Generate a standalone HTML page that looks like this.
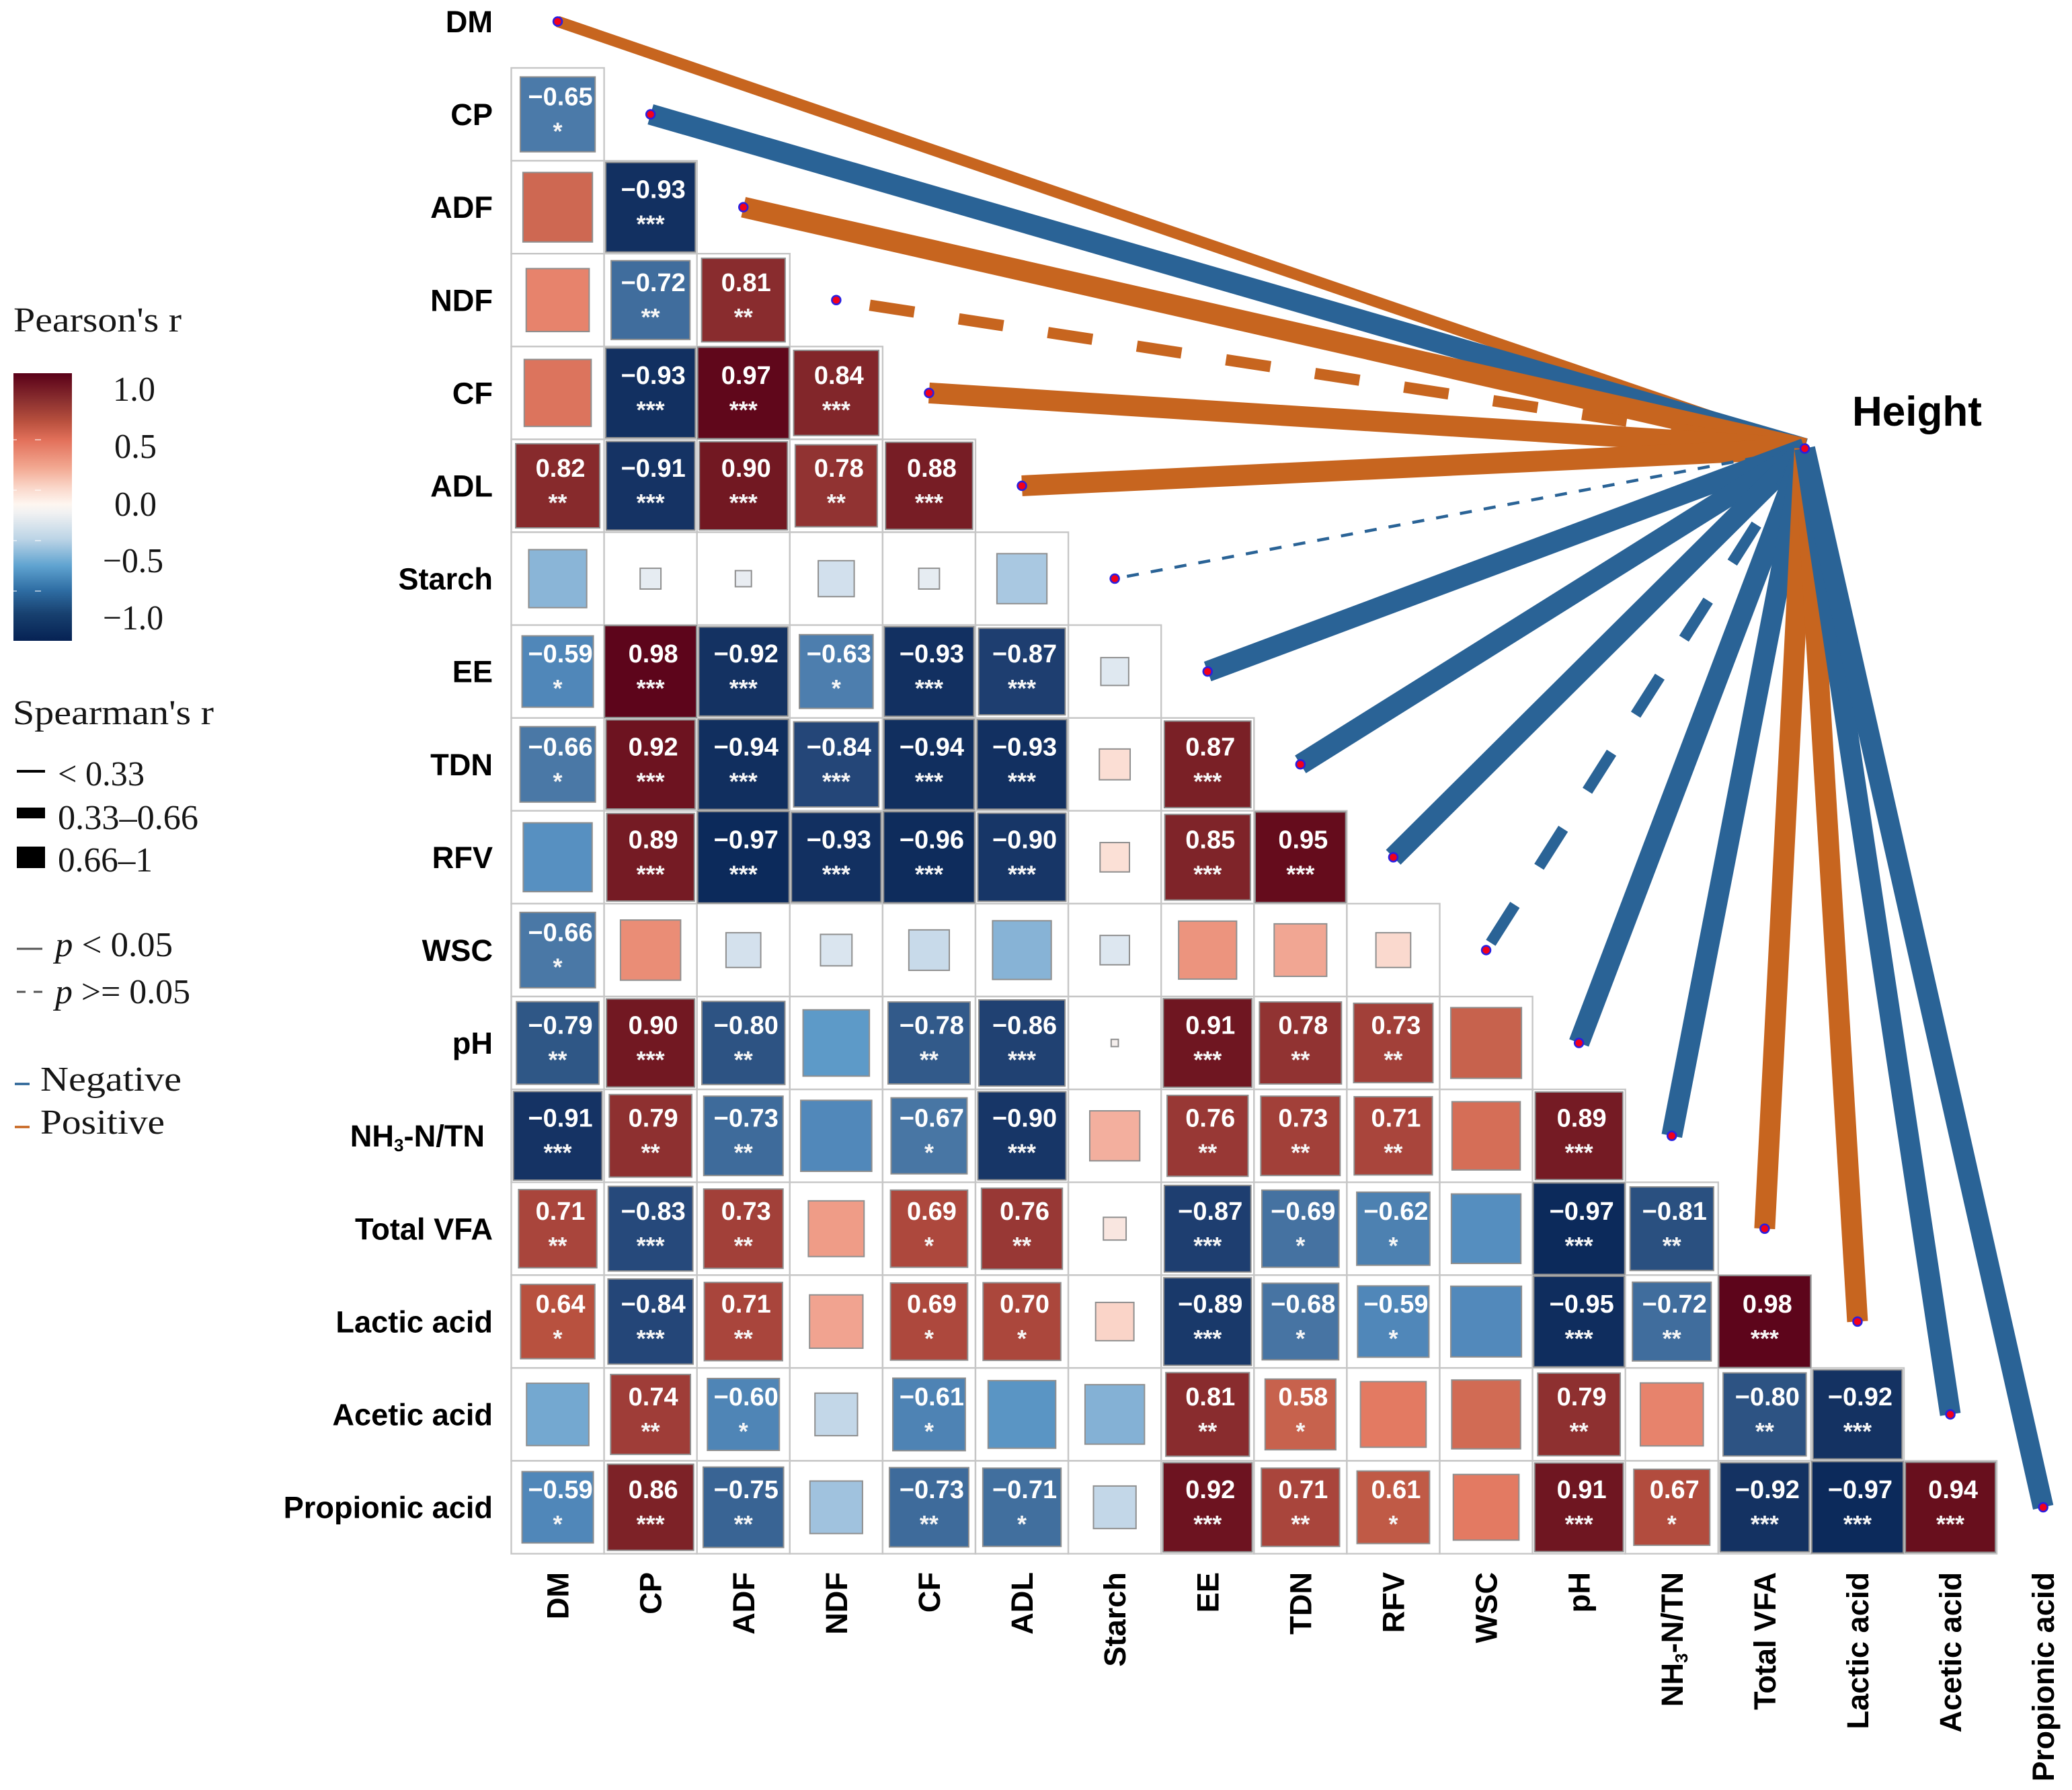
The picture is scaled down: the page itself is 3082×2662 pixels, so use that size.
<!DOCTYPE html>
<html lang="en">
<head>
<meta charset="utf-8">
<title>Pearson and Spearman correlation chart</title>
<style>
html,body{margin:0;padding:0;background:#fff;}
svg{display:block;}
.lg{font-family:"Liberation Serif",serif;font-size:52px;fill:#161616;}
.ax{font-family:"Liberation Sans",sans-serif;font-weight:bold;font-size:45.2px;fill:#000;}
.val{font-family:"Liberation Sans",sans-serif;font-weight:bold;font-size:38px;fill:#fff;text-anchor:middle;}
.star{font-family:"Liberation Sans",sans-serif;font-weight:bold;font-size:36px;fill:#f6f6f6;text-anchor:middle;}
</style>
</head>
<body>
<svg id="chart" xmlns="http://www.w3.org/2000/svg" width="3082" height="2662" viewBox="0 0 3082 2662">
  <defs>
    <linearGradient id="cb" x1="0" y1="0" x2="0" y2="1">
      <stop offset="0" stop-color="#5a0018"/>
      <stop offset="0.10" stop-color="#8a2f2f"/>
      <stop offset="0.18" stop-color="#b8503e"/>
      <stop offset="0.25" stop-color="#e2705a"/>
      <stop offset="0.35" stop-color="#f2a68f"/>
      <stop offset="0.43" stop-color="#fad8cb"/>
      <stop offset="0.49" stop-color="#fef6f0"/>
      <stop offset="0.52" stop-color="#f2f2f2"/>
      <stop offset="0.62" stop-color="#bcd4e6"/>
      <stop offset="0.72" stop-color="#5fa3d0"/>
      <stop offset="0.81" stop-color="#2f6ea4"/>
      <stop offset="0.90" stop-color="#17406f"/>
      <stop offset="1" stop-color="#062254"/>
    </linearGradient>
  </defs>
  <rect width="3082" height="2662" fill="#fff"/>
  <g id="grid"></g>
  <g id="tiles"></g>
  <g id="links"></g>
  <g id="points"></g>
  <g id="yAxis"></g>
  <g id="xAxis"></g>
  <text x="2755" y="633" font-family="'Liberation Sans',sans-serif" font-weight="bold" font-size="62" fill="#000">Height</text>

  <g>
    <text class="lg" x="20" y="493" textLength="250" lengthAdjust="spacingAndGlyphs">Pearson's r</text>
    <rect x="20" y="555" width="87" height="398" fill="url(#cb)"/>
    <g fill="#fff" opacity="0.55">
      <rect x="20" y="653" width="5" height="2"/><rect x="52" y="653" width="9" height="2"/>
      <rect x="20" y="728" width="5" height="2"/><rect x="52" y="728" width="9" height="2"/>
      <rect x="20" y="803" width="5" height="2"/><rect x="52" y="803" width="9" height="2"/>
      <rect x="20" y="878" width="5" height="2"/><rect x="52" y="878" width="9" height="2"/>
    </g>
    <text class="lg" x="168" y="596" textLength="63" lengthAdjust="spacingAndGlyphs">1.0</text>
    <text class="lg" x="170" y="681" textLength="63" lengthAdjust="spacingAndGlyphs">0.5</text>
    <text class="lg" x="170" y="767" textLength="63" lengthAdjust="spacingAndGlyphs">0.0</text>
    <text class="lg" x="153" y="851" textLength="90" lengthAdjust="spacingAndGlyphs">−0.5</text>
    <text class="lg" x="153" y="936" textLength="90" lengthAdjust="spacingAndGlyphs">−1.0</text>

    <text class="lg" x="19" y="1077" textLength="299" lengthAdjust="spacingAndGlyphs">Spearman's r</text>
    <rect x="25" y="1145" width="42" height="4" fill="#000"/>
    <text class="lg" x="86" y="1168" textLength="129" lengthAdjust="spacingAndGlyphs">&lt; 0.33</text>
    <rect x="25" y="1201" width="42" height="16" fill="#000"/>
    <text class="lg" x="86" y="1233" textLength="209" lengthAdjust="spacingAndGlyphs">0.33–0.66</text>
    <rect x="25" y="1259" width="42" height="32" fill="#000"/>
    <text class="lg" x="86" y="1296" textLength="141" lengthAdjust="spacingAndGlyphs">0.66–1</text>

    <line x1="25" y1="1411" x2="63" y2="1411" stroke="#555" stroke-width="3"/>
    <text class="lg" x="82" y="1422" textLength="175" lengthAdjust="spacingAndGlyphs"><tspan font-style="italic">p</tspan> &lt; 0.05</text>
    <line x1="25" y1="1475" x2="63" y2="1475" stroke="#555" stroke-width="3" stroke-dasharray="13,12"/>
    <text class="lg" x="82" y="1492" textLength="201" lengthAdjust="spacingAndGlyphs"><tspan font-style="italic">p</tspan> &gt;= 0.05</text>

    <line x1="22" y1="1612" x2="44" y2="1612" stroke="#2a6396" stroke-width="3.5"/>
    <text class="lg" x="60" y="1622" textLength="210" lengthAdjust="spacingAndGlyphs">Negative</text>
    <line x1="22" y1="1676" x2="44" y2="1676" stroke="#c7651f" stroke-width="3.5"/>
    <text class="lg" x="60" y="1686" textLength="185" lengthAdjust="spacingAndGlyphs">Positive</text>
  </g>
</svg>

<script>
// ---- Chart data (unlabelled cells estimated from tile size) ----
const categories = ["DM","CP","ADF","NDF","CF","ADL","Starch","EE","TDN","RFV","WSC","pH","NH3-N/TN","Total VFA","Lactic acid","Acetic acid","Propionic acid"];

const pearsonCP = [-0.65];
const pearsonADF = [0.56,-0.93];
const pearsonNDF = [0.46,-0.72,0.81];
const pearsonCF = [0.52,-0.93,0.97,0.84];
const pearsonADL = [0.82,-0.91,0.90,0.78,0.88];
const pearsonStarch = [-0.39,-0.05,-0.03,-0.15,-0.05,-0.29];
const pearsonEE = [-0.59,0.98,-0.92,-0.63,-0.93,-0.87,-0.09];
const pearsonTDN = [-0.66,0.92,-0.94,-0.84,-0.94,-0.93,0.11,0.87];
const pearsonRFV = [-0.55,0.89,-0.97,-0.93,-0.96,-0.90,0.10,0.85,0.95];
const pearsonWSC = [-0.66,0.42,-0.14,-0.115,-0.19,-0.40,-0.10,0.39,0.32,0.14];
const pearsonPH = [-0.79,0.90,-0.80,-0.51,-0.78,-0.86,0.006,0.91,0.78,0.73,0.58];
const pearsonNH3 = [-0.91,0.79,-0.73,-0.585,-0.67,-0.90,0.29,0.76,0.73,0.71,0.54,0.89];
const pearsonVFA = [0.71,-0.83,0.73,0.36,0.69,0.76,0.06,-0.87,-0.69,-0.62,-0.56,-0.97,-0.81];
const pearsonLactic = [0.64,-0.84,0.71,0.33,0.69,0.70,0.17,-0.89,-0.68,-0.59,-0.58,-0.95,-0.72,0.98];
const pearsonAcetic = [-0.45,0.74,-0.60,-0.21,-0.61,-0.53,-0.41,0.81,0.58,0.50,0.55,0.79,0.46,-0.80,-0.92];
const pearsonPropionic = [-0.59,0.86,-0.75,-0.32,-0.73,-0.71,-0.21,0.92,0.71,0.61,0.50,0.91,0.67,-0.92,-0.97,0.94];
const pearsonRows = [pearsonCP,pearsonADF,pearsonNDF,pearsonCF,pearsonADL,pearsonStarch,pearsonEE,pearsonTDN,pearsonRFV,pearsonWSC,pearsonPH,pearsonNH3,pearsonVFA,pearsonLactic,pearsonAcetic,pearsonPropionic];

// Significance stars per tile (0 = not labelled)
const starRows = [
  [1],
  [0,3],
  [0,2,2],
  [0,3,3,3],
  [2,3,3,2,3],
  [0,0,0,0,0,0],
  [1,3,3,1,3,3,0],
  [1,3,3,3,3,3,0,3],
  [0,3,3,3,3,3,0,3,3],
  [1,0,0,0,0,0,0,0,0,0],
  [2,3,2,0,2,3,0,3,2,2,0],
  [3,2,2,0,1,3,0,2,2,2,0,3],
  [2,3,2,0,1,2,0,3,1,1,0,3,2],
  [1,3,2,0,1,1,0,3,1,1,0,3,2,3],
  [0,2,1,0,1,0,0,2,1,0,0,2,0,2,3],
  [1,3,2,0,2,1,0,3,2,1,0,3,1,3,3,3]
];

// Spearman r and p between Height and each category (estimated from line width / dash)
const linkR = [0.55,-0.78,0.80,0.50,0.82,0.84,-0.20,-0.80,-0.78,-0.75,-0.50,-0.82,-0.76,0.80,0.78,-0.72,-0.85];
const linkP = [0.04,0.01,0.01,0.09,0.01,0.01,0.50,0.01,0.01,0.01,0.08,0.01,0.01,0.01,0.01,0.01,0.01];

// ---- Scales ----
const CELL = 138.1, LEFT = 760.5, TOP = 101;
const HEIGHT_X = 2684.5, HEIGHT_Y = 667;
const xAt = function (col) { return LEFT + CELL * (col + 0.5); };
const yAt = function (row) { return TOP + CELL * (row - 0.5); };
const tileSide = function (r) { return CELL * Math.sqrt(Math.abs(r)); };

const posScale = [[0,"#f5f0ee"],[0.1,"#fbe0d6"],[0.2,"#f9cfc2"],[0.31,"#f2a896"],[0.41,"#eb8f78"],[0.5,"#e37a62"],[0.57,"#ca654f"],[0.64,"#b8513f"],[0.71,"#a9453c"],[0.79,"#8e3030"],[0.87,"#7a2026"],[0.95,"#650c1c"],[1,"#58001a"]];
const negScale = [[0,"#eef0f3"],[0.1,"#dde7f0"],[0.2,"#c6d9e9"],[0.31,"#a3c4df"],[0.41,"#84b1d5"],[0.5,"#5f9cca"],[0.59,"#5087b9"],[0.66,"#4a78a6"],[0.73,"#3e6b9b"],[0.79,"#2f5786"],[0.83,"#26497b"],[0.91,"#153364"],[1,"#082656"]];

function hexRgb(h) { return [parseInt(h.substr(1,2),16),parseInt(h.substr(3,2),16),parseInt(h.substr(5,2),16)]; }
function fillFor(r) {
  const scale = r >= 0 ? posScale : negScale;
  const a = Math.min(1, Math.abs(r));
  for (let k = 1; k < scale.length; k++) {
    if (a <= scale[k][0]) {
      const t = (a - scale[k-1][0]) / (scale[k][0] - scale[k-1][0]);
      const c0 = hexRgb(scale[k-1][1]), c1 = hexRgb(scale[k][1]);
      return "rgb(" + Math.round(c0[0]+(c1[0]-c0[0])*t) + "," + Math.round(c0[1]+(c1[1]-c0[1])*t) + "," + Math.round(c0[2]+(c1[2]-c0[2])*t) + ")";
    }
  }
  return scale[scale.length-1][1];
}
function linkWidth(r) { const a = Math.abs(r); return a < 0.33 ? 4.5 : (a < 0.66 ? 16.75 : 31); }
function linkColor(r) { return r >= 0 ? "#c7651f" : "#2a6396"; }

const NS = "http://www.w3.org/2000/svg";
function make(tag, parent) { const e = document.createElementNS(NS, tag); parent.appendChild(e); return e; }
function setAll(e, o) { for (const k in o) { e.setAttribute(k, o[k]); } }

const gGrid = document.getElementById("grid");
const gTiles = document.getElementById("tiles");
const gLinks = document.getElementById("links");
const gPoints = document.getElementById("points");
const gY = document.getElementById("yAxis");
const gX = document.getElementById("xAxis");

// ---- Heatmap ----
pearsonRows.forEach(function (rowVals, idx) {
  const row = idx + 1;
  rowVals.forEach(function (r, col) {
    const cx = xAt(col), cy = yAt(row);
    const cell = make("rect", gGrid);
    setAll(cell, {x: cx - CELL/2, y: cy - CELL/2, width: CELL, height: CELL, fill: "#fff", stroke: "#c6c6c6", "stroke-width": 2.4});
    
    
  });
});
pearsonRows.forEach(function (rowVals, idx) {
  const row = idx + 1;
  rowVals.forEach(function (r, col) {
    const cx = xAt(col), cy = yAt(row), s = tileSide(r);
    const tile = make("rect", gTiles);
    setAll(tile, {x: cx - s/2, y: cy - s/2, width: s, height: s, fill: fillFor(r), stroke: "#8f8f8f", "stroke-width": 2});
    
    
    const n = starRows[idx][col];
    if (n > 0) {
      const t = make("text", gTiles);
      setAll(t, {x: cx + 4, y: cy - 13.5, "class": "val"});
      t.textContent = (r < 0 ? "\u2212" : "") + Math.abs(r).toFixed(2);
      
      
      const st = make("text", gTiles);
      setAll(st, {x: cx, y: cy + 37.5, "class": "star"});
      st.textContent = "*".repeat(n);
      
      
    }
  });
});

// ---- Links from Height to each category ----
linkR.forEach(function (r, i) {
  const w = linkWidth(r);
  const ln = make("line", gLinks);
  setAll(ln, {x1: HEIGHT_X, y1: HEIGHT_Y, x2: xAt(i), y2: yAt(i), stroke: linkColor(r), "stroke-width": w, "stroke-linecap": "butt"});
  if (linkP[i] >= 0.05) { ln.setAttribute("stroke-dasharray", (4*w) + " " + (4*w)); }
  
  
});

// ---- Points ----
categories.forEach(function (c, i) {
  const p = make("circle", gPoints);
  setAll(p, {cx: xAt(i), cy: yAt(i), r: 6.5, fill: "#f2001c", stroke: "#2a1fe0", "stroke-width": 2.5});
  
  
});
const hp = make("circle", gPoints);
setAll(hp, {cx: HEIGHT_X, cy: HEIGHT_Y, r: 6.5, fill: "#f2001c", stroke: "#2a1fe0", "stroke-width": 2.5});



// ---- Axis labels ----
function fillLabel(t, name) {
  if (name.indexOf("NH3") === 0) {
    const a = make("tspan", t); a.textContent = "NH";
    
    
    const b = make("tspan", t); b.textContent = "3";
    setAll(b, {"font-size": 26, dy: 7});
    
    
    const c = make("tspan", t); c.textContent = name.slice(3);
    setAll(c, {dy: -7});
    
    
  } else {
    t.textContent = name;
  }
}
categories.forEach(function (name, i) {
  const ty = make("text", gY);
  setAll(ty, {x: name.indexOf("NH3") === 0 ? 721 : 733, y: yAt(i) + 16, "text-anchor": "end", "class": "ax"});
  fillLabel(ty, name);
  
  
  const bx = xAt(i) + 16;
  const tx = make("text", gX);
  setAll(tx, {x: bx, y: 2338, "text-anchor": "end", "class": "ax", transform: "rotate(-90 " + bx + " 2338)"});
  fillLabel(tx, name);
  
  
});
</script>
</body>
</html>
